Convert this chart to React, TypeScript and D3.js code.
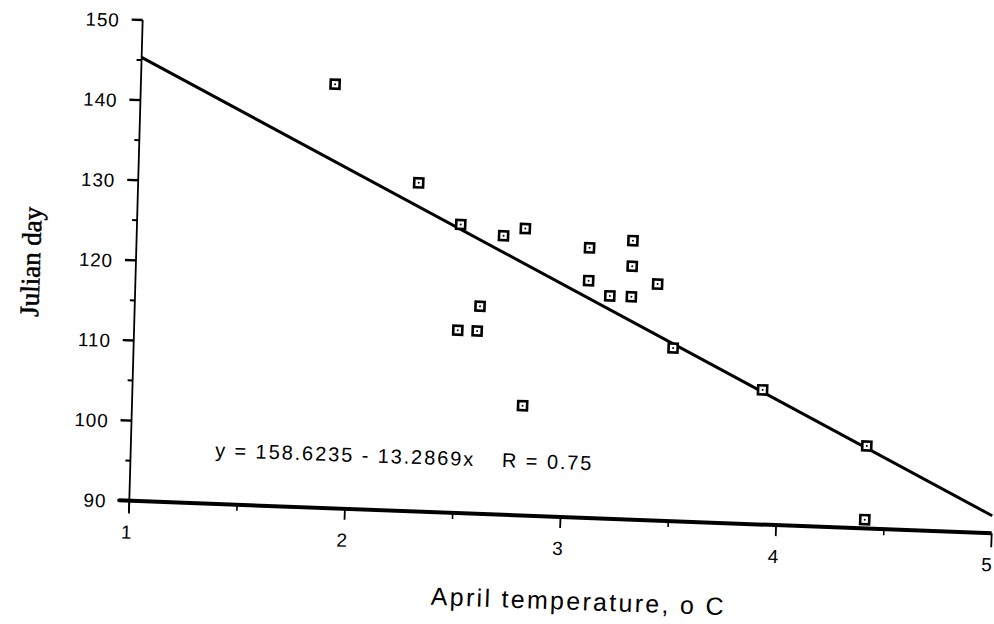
import React from "react";
import * as d3 from "d3";

const temps = [1.9, 2.3, 2.5, 2.7, 2.8, 3.1, 3.3, 3.3, 3.1, 3.42, 3.2, 3.3, 2.6, 2.5, 2.59, 2.81, 3.5, 3.92, 4.41, 4.41];
const days = [142.9, 131.0, 126.0, 124.8, 125.8, 123.7, 124.8, 121.6, 119.6, 119.5, 117.8, 117.8, 115.9, 112.8, 112.8, 103.7, 111.6, 106.8, 100.3, 91.1];
const xTicks = [1, 2, 3, 4, 5];
const xMinorTicks = [1.5, 2.5, 3.5, 4.5];
const yTicks = [90, 100, 110, 120, 130, 140, 150];
const yMinorTicks = [95, 105, 115, 125, 135, 145];
const intercept = 158.6235;
const slope = -13.2869;
const rValue = 0.75;

const W = 994;
const H = 624;
const ORIGIN = [129.3, 500.7];
const SKEW_X = 0.0378;
const SKEW_Y = 0.0278;
const ANGLE = 2;
const INK = "#000";

const xScale = d3.scaleLinear().domain([1, 5]).range([0, 862.4]);
const yScale = d3.scaleLinear().domain([90, 150]).range([0, 480.7]);

function project(x: number, y: number): [number, number] {
  const u = xScale(x);
  const h = yScale(y);
  return [ORIGIN[0] + u + h * SKEW_Y, ORIGIN[1] + u * SKEW_X - h];
}

export default function App() {
  const line = d3
    .line<[number, number]>()
    .x((d) => project(d[0], d[1])[0])
    .y((d) => project(d[0], d[1])[1]);

  const regX = [1, 5];
  const regPts: [number, number][] = regX.map((x) => [x, intercept + slope * x]);

  const yAxisTop = project(1, 150);
  const yAxisBot = project(1, 88.4);
  const xAxisL = project(0.95, 90);
  const xAxisR = project(5, 90);

  const eqAnchor = [215, 457];

  return (
    <svg
      width={W}
      height={H}
      style={{ position: "absolute", left: 0, top: 0, background: "#fff" }}
      fontFamily="'Liberation Sans', Arial, Helvetica, sans-serif"
    >
      <rect x={0} y={0} width={W} height={H} fill="#fff" />
      {/* y axis */}
      <line x1={yAxisTop[0]} y1={yAxisTop[1]} x2={yAxisBot[0]} y2={yAxisBot[1]} stroke={INK} strokeWidth={1.8} />
      {yTicks.map((t) => {
        const [px, py] = project(1, t);
        return (
          <g key={"yt" + t} transform={`translate(${px},${py}) rotate(${ANGLE})`}>
            <line x1={t === 90 ? -12 : -11} y1={0} x2={0} y2={0} stroke={INK} strokeWidth={2.4} />
            <text x={-23} y={7.5} textAnchor="end" fontSize={19} letterSpacing={0.8} fill={INK}>
              {t}
            </text>
          </g>
        );
      })}
      {yMinorTicks.map((t) => {
        const [px, py] = project(1, t);
        return (
          <g key={"ym" + t} transform={`translate(${px},${py}) rotate(${ANGLE})`}>
            <line x1={-5} y1={0} x2={0} y2={0} stroke={INK} strokeWidth={2} />
          </g>
        );
      })}
      {/* x axis */}
      <line x1={xAxisL[0]} y1={xAxisL[1]} x2={xAxisR[0]} y2={xAxisR[1]} stroke={INK} strokeWidth={4} />
      {xTicks.map((t) => {
        const [px, py] = project(t, 90);
        return (
          <g key={"xt" + t} transform={`translate(${px},${py}) rotate(${ANGLE})`}>
            <line x1={0} y1={0} x2={0} y2={t === 5 ? 14 : 11} stroke={INK} strokeWidth={1.8} />
            <text x={t === 5 ? -4 : -2} y={38} textAnchor="middle" fontSize={19} fill={INK}>
              {t}
            </text>
          </g>
        );
      })}
      {xMinorTicks.map((t) => {
        const [px, py] = project(t, 90);
        return (
          <g key={"xm" + t} transform={`translate(${px},${py}) rotate(${ANGLE})`}>
            <line x1={0} y1={0} x2={0} y2={6} stroke={INK} strokeWidth={1.6} />
          </g>
        );
      })}
      {/* regression line */}
      <path d={line(regPts) || ""} fill="none" stroke={INK} strokeWidth={3} />
      {/* points */}
      {temps.map((t, i) => {
        const [px, py] = project(t, days[i]);
        return (
          <g key={"p" + i} transform={`translate(${px},${py}) rotate(${ANGLE})`}>
            <rect x={-4.5} y={-4.5} width={9} height={9} fill="#fff" stroke={INK} strokeWidth={2.6} />
            <circle cx={0} cy={0} r={1} fill={INK} />
          </g>
        );
      })}
      {/* equation */}
      <g transform={`translate(${eqAnchor[0]},${eqAnchor[1]}) rotate(${ANGLE})`}>
        <text x={0} y={0} fontSize={20} letterSpacing={1.9} fill={INK}>
          {`y = ${intercept} - ${Math.abs(slope)}x`}
        </text>
        <text x={287} y={0} fontSize={20} letterSpacing={1.9} fill={INK}>
          {`R = ${rValue}`}
        </text>
      </g>
      {/* axis titles */}
      <g transform={`translate(578,610) rotate(${ANGLE})`}>
        <text x={0} y={0} textAnchor="middle" fontSize={25} letterSpacing={2.3} fill={INK}>
          April temperature, o C
        </text>
      </g>
      <g transform={`translate(40,262) rotate(${-90 + ANGLE})`}>
        <text
          x={0}
          y={0}
          textAnchor="middle"
          fontSize={27}
          fontFamily="'Liberation Serif', 'Times New Roman', serif"
          fill={INK}
          stroke={INK}
          strokeWidth={0.5}
        >
          Julian day
        </text>
      </g>
    </svg>
  );
}
